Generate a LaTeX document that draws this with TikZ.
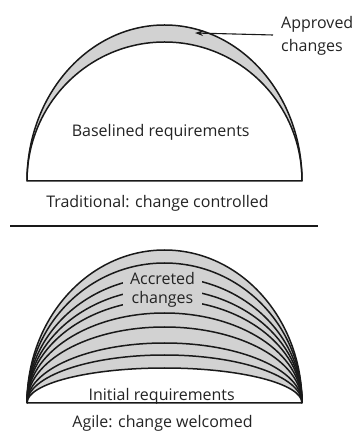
\documentclass[tikz,border=0pt]{standalone}
\usepackage{fontspec}
\setmainfont{Open Sans}
\usetikzlibrary{arrows.meta}
\definecolor{domegray}{RGB}{210,210,210}
\definecolor{ink}{RGB}{35,35,35}
\begin{document}
\begin{tikzpicture}[x=1pt,y=1pt,
  lbl/.style={font=\fontsize{16}{19}\selectfont, text=ink, inner sep=0pt},
  arcline/.style={line width=1.5pt, draw=black!90},
  dome/.style={x radius=137.5, start angle=180, end angle=0}]
\useasboundingbox (0,0) rectangle (354,434);
% ---------- top: traditional ----------
\coordinate (tl) at (27,253);
\fill[domegray] (tl) arc[dome, y radius=156] -- cycle;
\fill[white] (tl) arc[dome, y radius=139] -- cycle;
\draw[arcline] (tl) arc[dome, y radius=139];
\draw[arcline, line join=round] (tl) arc[dome, y radius=156] -- cycle;
\node[lbl, anchor=base] (basel) at (160.7,297) {Baselined requirements};
\node[lbl, anchor=base] (trad) at (157.5,226) {Traditional: change controlled};
\node[lbl, anchor=base west] (appr1) at (281,405) {Approved};
\node[lbl, anchor=base west] (appr2) at (281,382) {changes};
\coordinate (astart) at (273,399);
\coordinate (atip) at (195,401);
\draw[line width=1.1pt, black!90, -{Stealth[length=8pt,width=5.5pt]}] (astart) -- (atip);
% ---------- separator ----------
\coordinate (sepl) at (10,208);
\coordinate (sepr) at (318,208);
\draw[line width=1.2pt, black!90] (sepl) -- (sepr);
% ---------- bottom: agile ----------
\coordinate (bl) at (27,31);
\fill[domegray] (bl) arc[dome, y radius=153] -- cycle;
\fill[white] (bl) arc[dome, y radius=35] -- cycle;
\foreach \r in {126,114,103}
  \draw[arcline] (bl) arc[dome, y radius=\r];
\node[lbl, fill=domegray, align=center, inner xsep=7pt, inner ysep=2pt] (acc) at (162.5,144) {Accreted\\changes};
\foreach \r in {140,90,76,60,48,35}
  \draw[arcline] (bl) arc[dome, y radius=\r];
\draw[arcline, line join=round] (bl) arc[dome, y radius=153] -- cycle;
\node[lbl, anchor=base] (init) at (161.7,34) {Initial requirements};
\node[lbl, anchor=base] (agile) at (162.5,6) {Agile: change welcomed};
\end{tikzpicture}
\end{document}
